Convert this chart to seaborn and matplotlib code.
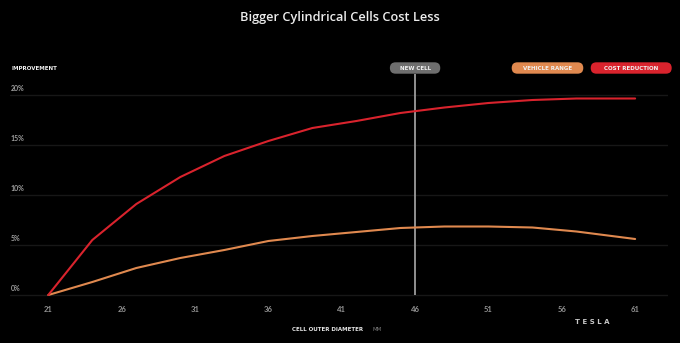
import matplotlib
matplotlib.use("Agg")
import matplotlib.pyplot as plt
from matplotlib.patches import FancyBboxPatch
from matplotlib.transforms import IdentityTransform, blended_transform_factory, offset_copy
import pandas as pd
import seaborn as sns

# Cell outer diameter (mm) and the relative improvement (%) for each series
diameter_mm = [21, 24, 27, 30, 33, 36, 39, 42, 45, 48, 51, 54, 57, 61]
cost_reduction = [0.0, 5.5, 9.1, 11.8, 13.9, 15.4, 16.7, 17.4, 18.2, 18.75, 19.2, 19.5, 19.65, 19.65]
vehicle_range = [0.0, 1.3, 2.7, 3.7, 4.5, 5.4, 5.9, 6.3, 6.7, 6.85, 6.85, 6.75, 6.35, 5.6]
series_names = ["VEHICLE RANGE", "COST REDUCTION"]
x_ticks = [21, 26, 31, 36, 41, 46, 51, 56, 61]
y_ticks = [0, 5, 10, 15, 20]
new_cell_mm = 46

RED = "#d9232d"
ORANGE = "#e0894f"
GRAY_PILL = "#6e6e6e"
GRID = "#171717"

df = pd.concat([
    pd.DataFrame({"diameter": diameter_mm, "improvement": vehicle_range, "series": series_names[0]}),
    pd.DataFrame({"diameter": diameter_mm, "improvement": cost_reduction, "series": series_names[1]}),
])

sns.set_theme(style="dark")
plt.rcParams["font.family"] = ["Lato", "DejaVu Sans"]

W, H = 680, 343
fig = plt.figure(figsize=(W / 100, H / 100), dpi=100, facecolor="black")

# axes box in pixel terms (left, top, right, bottom)
L, T, R, B = 10, 55, 668, 300
ax = fig.add_axes([L / W, 1 - B / H, (R - L) / W, (B - T) / H])
ax.set_facecolor("black")
for s in ax.spines.values():
    s.set_visible(False)

sns.lineplot(data=df, x="diameter", y="improvement", hue="series",
             palette={series_names[0]: ORANGE, series_names[1]: RED},
             linewidth=1.5, legend=False, ax=ax, zorder=3)

ax.set_xlim(18.39, 63.24)
ax.set_ylim(-0.5, 24.0)

# horizontal guide lines
ax.set_yticks(y_ticks)
ax.set_yticklabels([])
ax.yaxis.grid(True, color=GRID, linewidth=1.0)
ax.xaxis.grid(False)
ax.tick_params(axis="y", length=0)

ax.set_xticks(x_ticks)
ax.set_xticklabels([str(v) for v in x_ticks], fontsize=5.5, color="#939393",
                   fontweight="bold")
ax.tick_params(axis="x", length=0, pad=4.6)
ax.set_xlabel("")
ax.set_ylabel("")

# y labels sit just above each guide line, flush left
ytrans = offset_copy(blended_transform_factory(fig.transFigure, ax.transData),
                     fig=fig, x=0, y=6.8, units="dots")
for v in y_ticks:
    ax.text(11 / W, v, f"{v}%", transform=ytrans, ha="left", va="center",
            fontsize=5, color="#a0a0a0", fontweight="bold")

# marker for the new cell size
ax.vlines(new_cell_mm, 0, (295 - 73.7) / 10, color="#9c9c9c", linewidth=1.3, zorder=2)


def pill(x0, y0, x1, y1, color, label):
    h = y1 - y0
    patch = FancyBboxPatch((x0, H - y1), x1 - x0, h,
                           boxstyle=f"round,pad=0,rounding_size={h / 2}",
                           transform=IdentityTransform(), fc=color, ec="none")
    fig.add_artist(patch)
    fig.text((x0 + x1) / 2 / W, 1 - (y0 + y1) / 2 / H, label, ha="center", va="center",
             fontsize=4, fontweight="bold", color="#f2f2f2", family="DejaVu Sans")


fig.canvas.draw()
xc = ax.transData.transform((new_cell_mm, 0))[0]
pill(xc - 25.2, 62.3, xc + 25.2, 73.7, GRAY_PILL, "NEW CELL")
pill(511.7, 62.3, 583.3, 73.7, ORANGE, series_names[0])
pill(590.7, 62.3, 671.7, 73.7, RED, series_names[1])

fig.text(0.5, 1 - 17 / H, "Bigger Cylindrical Cells Cost Less", ha="center", va="center",
         fontsize=9.2, color="#ececec", family="Open Sans", fontweight="semibold")
fig.text(11 / W, 1 - 69 / H, "IMPROVEMENT", ha="left", va="center",
         fontsize=4, fontweight="bold", color="#f0f0f0", family="DejaVu Sans")
fig.text(292 / W, 1 - 329.5 / H, "CELL OUTER DIAMETER", ha="left", va="center",
         fontsize=4, fontweight="bold", color="#e6e6e6", family="DejaVu Sans")
fig.text(372.5 / W, 1 - 329.5 / H, "MM", ha="left", va="center",
         fontsize=4, color="#7a7a7a", family="DejaVu Sans")
fig.text(592 / W, 1 - 322 / H, "T E S L A", ha="center", va="center",
         fontsize=5, fontweight="bold", color="#c8c8c8", family="DejaVu Sans")

fig.savefig("out.png", dpi=100, facecolor="black")
